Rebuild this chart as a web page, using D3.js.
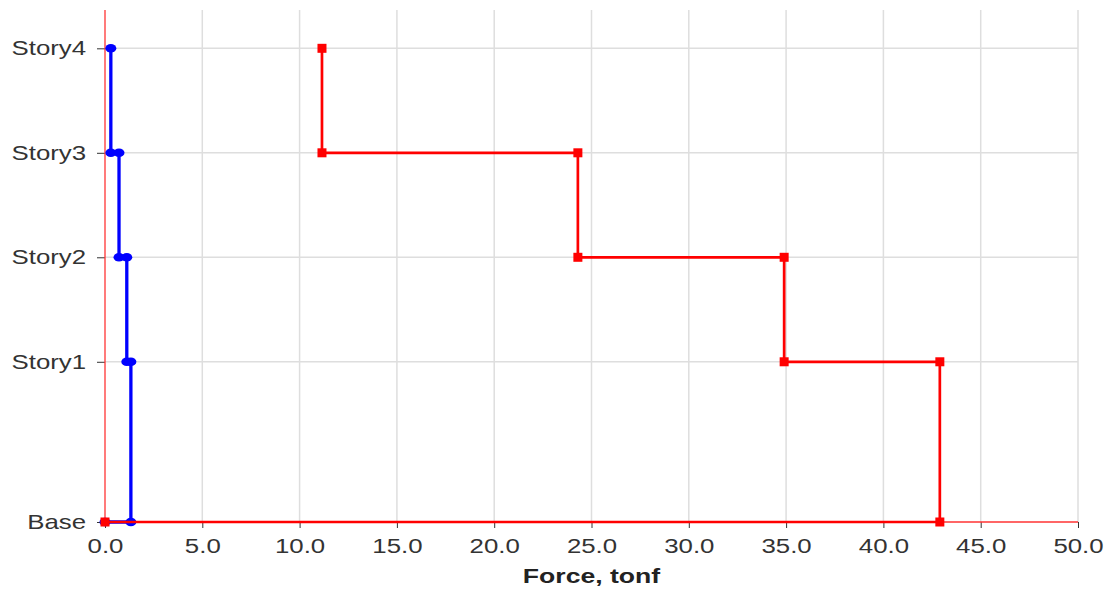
<!DOCTYPE html>
<html>
<head>
<meta charset="utf-8">
<script src="https://cdn.jsdelivr.net/npm/d3@7"></script>
<style>
  html, body { margin: 0; padding: 0; background: #fff; }
  svg { display: block; font-family: "Liberation Sans", Arial, sans-serif; }
</style>
</head>
<body>
<svg id="chart" width="1110" height="589"></svg>
<script>
// Story levels and their elevations (m)
const stories = ["Base", "Story1", "Story2", "Story3", "Story4"];
const elevations = [0, 4.6, 7.6, 10.6, 13.6];

// Step profile of the red series: force at each vertex, story at each vertex
const redForce = [11.15, 11.15, 24.3, 24.3, 34.9, 34.9, 42.9, 42.9, 0];
const redStory = ["Story4", "Story3", "Story3", "Story2", "Story2", "Story1", "Story1", "Base", "Base"];

// Step profile of the blue series
const blueForce = [0.3, 0.3, 0.72, 0.72, 1.12, 1.12, 1.33, 1.33, 0];
const blueStory = ["Story4", "Story3", "Story3", "Story2", "Story2", "Story1", "Story1", "Base", "Base"];

const xTicks = [0, 5, 10, 15, 20, 25, 30, 35, 40, 45, 50];
const xTitle = "Force, tonf";

const margin = { left: 105, right: 32, top: 10, bottom: 67 };
const W = 1110, H = 589;
const FONT = "Liberation Sans, Arial, sans-serif";
const SX = 1.26;   // wide glyph aspect used for all labels
const svg = d3.select("#chart");

const x = d3.scaleLinear().domain([0, 50]).range([margin.left, W - margin.right]);
const y = d3.scaleLinear().domain([0, 14.7]).range([H - margin.bottom, margin.top]);
const elev = s => elevations[stories.indexOf(s)];

// Grid lines
svg.append("g").selectAll("line").data(xTicks.filter(d => d > 0)).join("line")
  .attr("x1", d => x(d)).attr("x2", d => x(d))
  .attr("y1", y.range()[1]).attr("y2", y.range()[0])
  .attr("stroke", "#dedede").attr("stroke-width", 1.5);
svg.append("g").selectAll("line").data(elevations.filter(d => d > 0)).join("line")
  .attr("x1", x.range()[0]).attr("x2", x.range()[1])
  .attr("y1", d => y(d)).attr("y2", d => y(d))
  .attr("stroke", "#dedede").attr("stroke-width", 1.5);

// Axes
const xAxis = d3.axisBottom(x).tickValues(xTicks).tickFormat(d3.format(".1f")).tickSize(6).tickPadding(10);
const gx = svg.append("g").attr("transform", `translate(0,${y(0)})`).call(xAxis);
gx.select(".domain").remove();
gx.selectAll(".tick line").attr("stroke", "#333");
gx.selectAll(".tick text").attr("fill", "#333").style("font-size", "20.5px")
  .style("font-family", FONT).attr("transform", `scale(${SX},1)`);

const yAxis = d3.axisLeft(y).tickValues(elevations).tickFormat((d, i) => stories[i]).tickSize(8).tickPadding(7);
const gy = svg.append("g").attr("transform", `translate(${x(0)},0)`).call(yAxis);
gy.select(".domain").remove();
gy.selectAll(".tick line").attr("stroke", "#333");
gy.selectAll(".tick text").attr("fill", "#333").style("font-size", "20.5px")
  .style("font-family", FONT).attr("transform", `scale(${SX},1)`);

// Red axis lines
svg.append("line").attr("x1", x(0)).attr("x2", x(0)).attr("y1", y.range()[1]).attr("y2", y(0))
  .attr("stroke", "#ff3333").attr("stroke-width", 1.3);
svg.append("line").attr("x1", x(0)).attr("x2", x(50)).attr("y1", y(0)).attr("y2", y(0))
  .attr("stroke", "#ff3333").attr("stroke-width", 1.3);

// Axis title
svg.append("text")
  .attr("transform", `translate(${(x(0) + x(50)) / 2},583) scale(1.33,1)`)
  .attr("text-anchor", "middle").attr("font-weight", "bold").attr("font-size", "20px")
  .attr("fill", "#222").text(xTitle);

const line = d3.line().x(d => x(d[0])).y(d => y(elev(d[1])));

// Blue series
const bluePts = blueForce.map((f, i) => [f, blueStory[i]]);
svg.append("path").datum(bluePts).attr("d", line)
  .attr("fill", "none").attr("stroke", "#0000ff").attr("stroke-width", 3.3);
svg.append("g").selectAll("ellipse").data(bluePts).join("ellipse")
  .attr("cx", d => x(d[0])).attr("cy", d => y(elev(d[1])))
  .attr("rx", 5.5).attr("ry", 4.3).attr("fill", "#0000ff");

// Red series
const redPts = redForce.map((f, i) => [f, redStory[i]]);
svg.append("path").datum(redPts).attr("d", line)
  .attr("fill", "none").attr("stroke", "#ff0000").attr("stroke-width", 2.7);
svg.append("g").selectAll("rect").data(redPts).join("rect")
  .attr("x", d => x(d[0]) - 4.5).attr("y", d => y(elev(d[1])) - 4.5)
  .attr("width", 9).attr("height", 9).attr("fill", "#ff0000");
</script>
</body>
</html>
